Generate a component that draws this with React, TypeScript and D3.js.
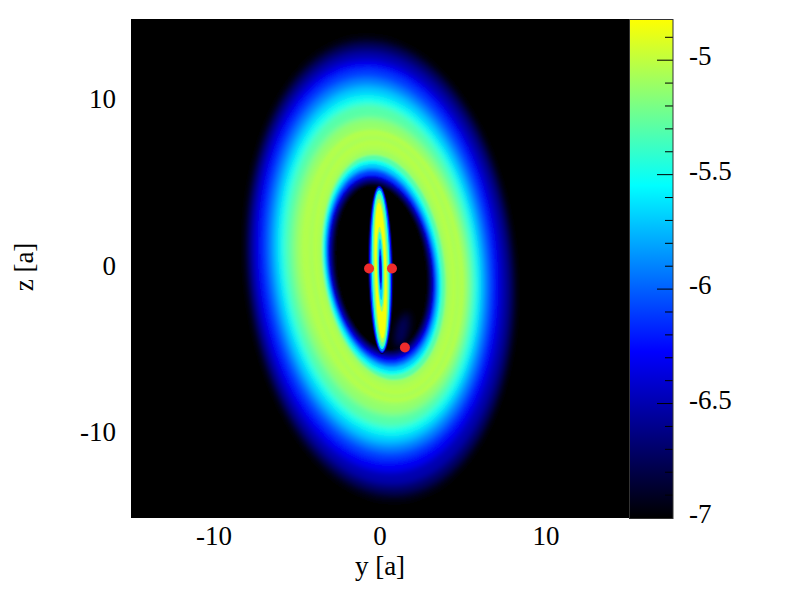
import React from "react";
import * as d3 from "d3";

const xTicks = [-10, 0, 10];
const zTicks = [-10, 0, 10];
const barTicks = [-5, -5.5, -6, -6.5, -7];
const barMinorTicks = [-4.9, -5.1, -5.2, -5.3, -5.4, -5.6, -5.7, -5.8, -5.9, -6.1, -6.2, -6.3, -6.4, -6.6, -6.7, -6.8, -6.9];
const paletteStops = ["#000000", "#0000ff", "#00ffff", "#ffff00"];

// outside edge of the disc, one entry per log density level
const outerLevels = [-6.9, -6.7, -6.5, -6.3, -6.1, -5.9, -5.7, -5.5, -5.3, -5.13, -5.04];
const outerLeft = [-8.15, -7.95, -7.72, -7.45, -7.05, -6.72, -6.39, -6.08, -5.72, -5.24, -4.82];
const outerRight = [8.2, 8.0, 7.65, 7.2, 6.8, 6.51, 6.2, 5.96, 5.66, 5.36, 5.12];
const outerTop = [13.95, 13.5, 13.05, 12.5, 12.0, 11.45, 10.95, 10.43, 9.89, 9.05, 8.33];
const outerBottom = [-14.0, -13.5, -13.0, -12.25, -11.55, -11.03, -10.55, -10.07, -9.53, -8.81, -8.09];
const outerTilt = [-0.1, -0.1, -0.1, -0.1, -0.1, -0.11, -0.11, -0.12, -0.12, -0.13, -0.14];

// hole of the disc, going down from the ridge
const innerLevels = [-5.04, -5.06, -5.03, -5.05, -5.09, -5.3, -5.5, -5.7, -5.9, -6.1, -6.3, -6.5, -6.7, -6.9, -7];
const innerLeft = [-4.6, -4.3, -4.0, -3.8, -3.6, -3.49, -3.43, -3.31, -3.25, -3.19, -3.13, -3.07, -2.95, -2.83, -2.7];
const innerRight = [5.0, 4.8, 4.55, 4.35, 4.15, 3.95, 3.72, 3.58, 3.46, 3.36, 3.28, 3.22, 3.1, 2.98, 2.85];
const innerTop = [8.3, 8.0, 7.7, 7.4, 7.13, 6.82, 6.52, 6.28, 6.04, 5.86, 5.62, 5.5, 5.32, 5.14, 5];
const innerBottom = [-8.0, -7.8, -7.55, -7.3, -7.01, -6.7, -6.4, -6.16, -5.92, -5.74, -5.56, -5.38, -5.2, -5.02, -4.9];
const innerTilt = [-0.15, -0.15, -0.16, -0.16, -0.16, -0.17, -0.17, -0.18, -0.18, -0.18, -0.18, -0.18, -0.18, -0.18, -0.18];

// the narrow inner disc seen near edge-on
const needleLevels = [-6.8, -6.3, -5.9, -5.5, -5.25, -5.05, -4.85, -5.1, -5.4, -5.7, -6.1, -6.4];
const needleLeft = [-0.72, -0.65, -0.58, -0.5, -0.44, -0.38, -0.32, -0.2, -0.15, -0.1, -0.06, -0.03];
const needleRight = [0.8, 0.73, 0.66, 0.58, 0.52, 0.46, 0.4, 0.28, 0.22, 0.17, 0.12, 0.09];
const needleTop = [5.02, 4.95, 4.85, 4.7, 4.5, 4.2, 3.95, 2.5, 2.2, 1.8, 1.2, 0.8];
const needleBottom = [-5.15, -5.08, -5.0, -4.85, -4.7, -4.45, -4.2, -2.6, -2.3, -1.9, -1.3, -0.9];
const needleTilt = [-0.12, -0.12, -0.14, -0.16, -0.2, -0.25, -0.3, -0.3, -0.3, -0.3, -0.3, -0.3];

// faint plume inside the hole
const plumeLevels = [-6.85, -6.75];
const plumeLeft = [0.8, 1.0];
const plumeRight = [1.9, 1.6];
const plumeTop = [-2.6, -3.0];
const plumeBottom = [-4.8, -4.5];
const plumeTilt = [0.5, 0.5];

const pointY = [-0.66, 0.72, 1.5];
const pointZ = [0, 0, -4.75];

const left = 131;
const right = 629;
const top = 19;
const bottom = 518;
const barRight = 673;

const x = d3.scaleLinear().domain([-15, 15]).range([left, right]);
const z = d3.scaleLinear().domain([-15, 15]).range([bottom, top]);
const barY = d3.scaleLinear().domain([-7, -4.82]).range([bottom, top]);
const color = d3
  .scaleLinear<string>()
  .domain(d3.range(4).map((i) => -7 + (i * 2.18) / 3))
  .range(paletteStops)
  .interpolate(d3.interpolateRgb);

const angles = d3.range(0, Math.PI * 2, Math.PI / 60);
const line = d3.line<number[]>().curve(d3.curveLinearClosed);

const contour = (l: number, r: number, t: number, b: number, tilt: number) => {
  const cx = (l + r) / 2;
  const cz = (t + b) / 2;
  const w = (r - l) / 2;
  const h = (t - b) / 2;
  return line(angles.map((a) => [x(cx + w * Math.cos(a)), z(cz + h * Math.sin(a + tilt))]));
};

const Bands = ({ levels, ls, rs, ts, bs, tilts, filter }: any) => (
  <g filter={filter}>
    {levels.map((lv: number, i: number) => (
      <path key={i} d={contour(ls[i], rs[i], ts[i], bs[i], tilts[i]) as string} fill={color(lv)} />
    ))}
  </g>
);

const serif = "'Liberation Serif', 'Times New Roman', serif";

export default function App() {
  return (
    <svg
      width={800}
      height={600}
      style={{ position: "absolute", left: 0, top: 0 }}
      fontFamily={serif}
      fontSize={27}
      fill="#000"
    >
      <defs>
        <filter id="soft" filterUnits="userSpaceOnUse" x={left} y={top} width={right - left} height={bottom - top}>
          <feGaussianBlur stdDeviation={3} />
        </filter>
        <filter id="sharp" filterUnits="userSpaceOnUse" x={left} y={top} width={right - left} height={bottom - top}>
          <feGaussianBlur stdDeviation={1.3} />
        </filter>
        <filter id="fine" filterUnits="userSpaceOnUse" x={left} y={top} width={right - left} height={bottom - top}>
          <feGaussianBlur stdDeviation={0.6} />
        </filter>
        <linearGradient id="bar" x1={0} x2={0} y1={1} y2={0}>
          {paletteStops.map((c, i) => (
            <stop key={c} offset={i / 3} stopColor={c} />
          ))}
        </linearGradient>
      </defs>

      <rect x={left} y={top} width={right - left} height={bottom - top} fill="#000" />
      <Bands levels={outerLevels} ls={outerLeft} rs={outerRight} ts={outerTop} bs={outerBottom} tilts={outerTilt} filter="url(#soft)" />
      <Bands levels={innerLevels} ls={innerLeft} rs={innerRight} ts={innerTop} bs={innerBottom} tilts={innerTilt} filter="url(#sharp)" />
      <Bands levels={plumeLevels} ls={plumeLeft} rs={plumeRight} ts={plumeTop} bs={plumeBottom} tilts={plumeTilt} filter="url(#soft)" />
      <Bands levels={needleLevels} ls={needleLeft} rs={needleRight} ts={needleTop} bs={needleBottom} tilts={needleTilt} filter="url(#fine)" />

      {pointY.map((y, i) => (
        <circle key={i} cx={x(y)} cy={z(pointZ[i])} r={5} fill="#ee2c2c" />
      ))}

      {/* colour bar */}
      <rect x={right + 1} y={top} width={barRight - right - 1} height={bottom - top} fill="url(#bar)" />
      {barMinorTicks.map((t) => (
        <line key={t} x1={barRight - 8} x2={barRight} y1={barY(t)} y2={barY(t)} stroke="#000" />
      ))}
      {barTicks.map((t) => (
        <line key={t} x1={barRight - 16} x2={barRight} y1={barY(t)} y2={barY(t)} stroke="#000" />
      ))}
      <rect x={right + 0.5} y={top + 0.5} width={barRight - right - 0.5} height={bottom - top} fill="none" stroke="#333" />
      {barTicks.map((t) => (
        <text key={t} x={689} y={barY(t) + 5} textAnchor="start">
          {t}
        </text>
      ))}

      {/* axes */}
      {xTicks.map((t) => (
        <text key={t} x={x(t)} y={544.5} textAnchor="middle">
          {t}
        </text>
      ))}
      {zTicks.map((t) => (
        <text key={t} x={116} y={z(t) + 6} textAnchor="end">
          {t}
        </text>
      ))}
      <text x={380} y={574.5} textAnchor="middle">
        y [a]
      </text>
      <text transform="translate(33,267) rotate(-90)" textAnchor="middle">
        z [a]
      </text>
    </svg>
  );
}
